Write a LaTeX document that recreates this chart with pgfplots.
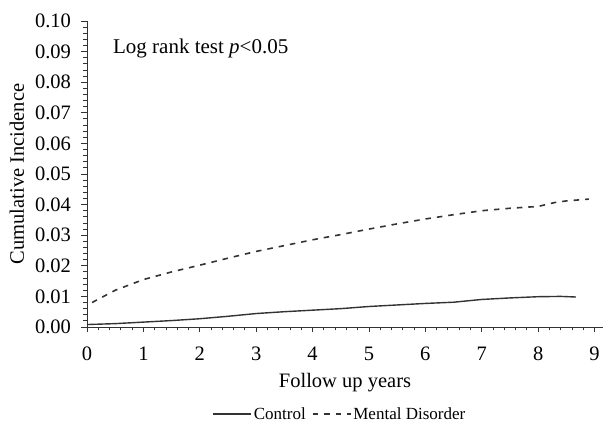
\documentclass[border=0pt]{standalone}
\usepackage{fontspec}
\setmainfont{Liberation Serif}
\usepackage{pgfplots}
\pgfplotsset{compat=1.18}
\definecolor{ink}{HTML}{333333}
\begin{document}
\begin{tikzpicture}
  \useasboundingbox (-87pt,-98pt) rectangle (520pt,327pt);
  \begin{axis}[
      at={(0,0)}, anchor=south west,
      scale only axis,
      width=516pt, height=306pt,
      xmin=0, xmax=9.15,
      ymin=0, ymax=0.1,
      axis lines=left,
      axis line style={-, ink, line width=0.9pt},
      xtick={0,1,...,9},
      ytick={0,0.01,...,0.1},
      minor x tick num=4,
      minor y tick num=4,
      tick align=outside,
      major tick length=5.5pt,
      minor tick length=3.5pt,
      major tick style={ink, line width=0.9pt},
      minor tick style={ink, line width=0.9pt},
      font=\fontsize{20.5}{24}\selectfont,
      /pgf/number format/assume math mode=true,
      yticklabel style={/pgf/number format/fixed, /pgf/number format/fixed zerofill,
        /pgf/number format/precision=2, xshift=-7pt},
      xticklabel style={yshift=-11pt},
      scaled y ticks=false,
      xlabel={Follow up years},
      ylabel={Cumulative Incidence},
      every axis x label/.style={at={(axis description cs:0.5,-0.183)}, anchor=center},
      every axis y label/.style={at={(axis description cs:-0.136,0.5)}, rotate=90, anchor=center},
      legend columns=2,
      legend style={draw=none, fill=none, at={(axis description cs:0.49,-0.284)}, anchor=center,
        font=\fontsize{17}{20}\selectfont,
        /tikz/every even column/.append style={column sep=4pt}},
      legend image code/.code={\draw[#1] (0pt,0pt) -- (38pt,0pt);},
      clip=false,
    ]
    \addplot[ink, line width=1.4pt] coordinates {
      (0,0.0008) (0.5,0.0011) (1,0.0016) (1.5,0.0021) (2,0.0027) (2.5,0.0035)
      (3,0.0044) (3.5,0.0050) (4,0.0055) (4.5,0.0060) (5,0.0067) (5.5,0.0072)
      (6,0.0077) (6.5,0.0081) (7,0.0090) (7.5,0.0095) (8,0.0099) (8.4,0.0100)
      (8.67,0.0098)
    };
    \addlegendentry{Control}
    \addplot[ink, line width=1.6pt, dash pattern=on 5.5pt off 6pt] coordinates {
      (0.09,0.0080) (0.5,0.0120) (1,0.0155) (1.5,0.0180) (2,0.0202) (2.5,0.0225)
      (3,0.0247) (3.5,0.0266) (4,0.0285) (4.5,0.0302) (5,0.0320) (5.5,0.0337)
      (6,0.0353) (6.5,0.0367) (7,0.0380) (7.5,0.0388) (8,0.0394) (8.3,0.0407)
      (8.5,0.0412) (8.9,0.0418)
    };
    \addlegendentry{Mental Disorder}
    \node[anchor=base west, inner sep=0pt, font=\fontsize{21}{25}\selectfont] at (axis cs:0.46,0.0895)
      {Log rank test \textit{p}<0.05};
  \end{axis}
\end{tikzpicture}
\end{document}
